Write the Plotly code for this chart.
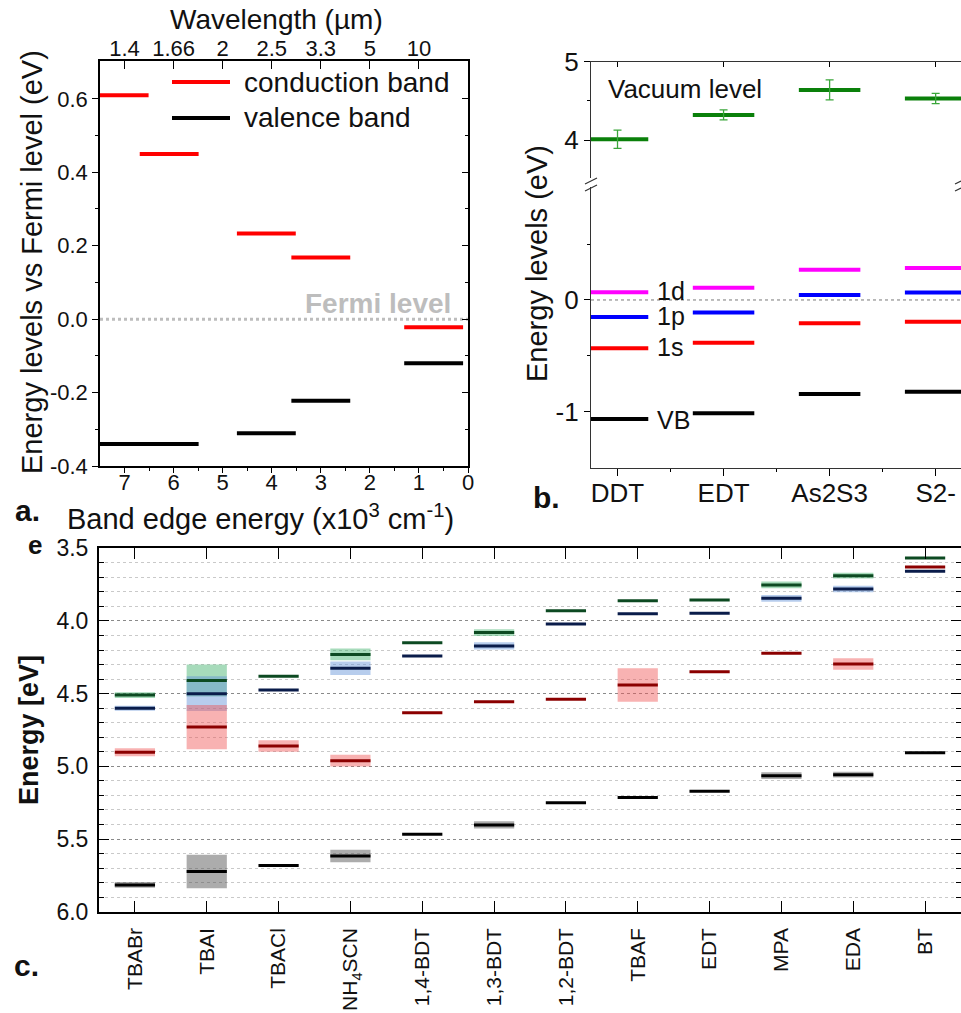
import plotly.graph_objects as go

W, H = 961, 1013
FONT = "Liberation Sans, Arial, sans-serif"

# ---------------- Panel a data ----------------
a_centers = [7.11, 6.09, 4.11, 3.00, 0.70]          # band edge energy (x10^3 cm^-1)
a_halfwidth = 0.60
a_cb = [0.61, 0.45, 0.233, 0.168, -0.022]           # conduction band (eV vs Fermi)
a_vb = [-0.34, -0.34, -0.311, -0.222, -0.12]        # valence band
a_xticks = [7, 6, 5, 4, 3, 2, 1, 0]
a_wl_pos = [7, 6, 5, 4, 3, 2, 1]
a_wl_labels = ["1.4", "1.66", "2", "2.5", "3.3", "5", "10"]
a_yticks = [-0.4, -0.2, 0.0, 0.2, 0.4, 0.6]
a_ylabels = ["-0.4", "-0.2", "0.0", "0.2", "0.4", "0.6"]

# ---------------- Panel b data ----------------
b_cats = ["DDT", "EDT", "As2S3", "S2-"]
b_vac = [4.01, 4.32, 4.64, 4.53]
b_vac_err = [0.117, 0.064, 0.128, 0.066]
b_1d = [0.069, 0.110, 0.271, 0.286]
b_1p = [-0.152, -0.113, 0.045, 0.066]
b_1s = [-0.433, -0.382, -0.209, -0.194]
b_vb = [-1.065, -1.015, -0.842, -0.821]
b_halfwidth = 0.29

# ---------------- Panel c data ----------------
c_cats = ["TBABr", "TBAI", "TBACl", "NH<sub>4</sub>SCN", "1,4-BDT", "1,3-BDT",
          "1,2-BDT", "TBAF", "EDT", "MPA", "EDA", "BT"]
c_green = [4.51, 4.41, 4.38, 4.23, 4.15, 4.08, 3.93, 3.86, 3.856, 3.752, 3.688, 3.567]
c_green_err = [0.02, 0.11, 0.0, 0.04, 0.0, 0.023, 0.0, 0.0, 0.0, 0.023, 0.02, 0.0]
c_blue = [4.60, 4.50, 4.475, 4.325, 4.241, 4.172, 4.021, 3.95, 3.947, 3.844, 3.78, 3.658]
c_blue_err = [0.017, 0.12, 0.0, 0.046, 0.0, 0.025, 0.0, 0.0, 0.0, 0.023, 0.023, 0.0]
c_red = [4.903, 4.73, 4.86, 4.961, 4.631, 4.555, 4.539, 4.44, 4.349, 4.222, 4.296, 3.629]
c_red_err = [0.027, 0.152, 0.04, 0.04, 0.0, 0.0, 0.0, 0.115, 0.0, 0.0, 0.04, 0.0]
c_black = [5.816, 5.724, 5.683, 5.616, 5.467, 5.403, 5.25, 5.215, 5.171, 5.064, 5.057, 4.906]
c_black_err = [0.02, 0.115, 0.0, 0.043, 0.0, 0.025, 0.0, 0.0, 0.0, 0.023, 0.02, 0.0]
c_halfwidth = 0.28
c_yticks = [3.5, 4.0, 4.5, 5.0, 5.5, 6.0]
c_ylabels = ["3.5", "4.0", "4.5", "5.0", "5.5", "6.0"]


def X(px):
    return px / W


def Y(py):
    return 1 - py / H


def seg_xy(xc, vals, hw):
    xs, ys = [], []
    for x, v in zip(xc, vals):
        xs += [x - hw, x + hw, None]
        ys += [v, v, None]
    return xs, ys


fig = go.Figure()

# ---------- panel a traces ----------
fig.add_trace(go.Scatter(x=[7.5, 0], y=[0, 0], mode="lines",
                         line=dict(color="#bdbdbd", width=3, dash="dot"),
                         xaxis="x", yaxis="y", showlegend=False, hoverinfo="skip"))
xs, ys = seg_xy(a_centers, a_cb, a_halfwidth)
fig.add_trace(go.Scatter(x=xs, y=ys, mode="lines", line=dict(color="#ff0000", width=4),
                         name="conduction band", xaxis="x", yaxis="y", showlegend=False))
xs, ys = seg_xy(a_centers, a_vb, a_halfwidth)
fig.add_trace(go.Scatter(x=xs, y=ys, mode="lines", line=dict(color="#000000", width=4),
                         name="valence band", xaxis="x", yaxis="y", showlegend=False))
fig.add_trace(go.Scatter(x=[None], y=[None], xaxis="x2", yaxis="y2", showlegend=False))

# ---------- panel b traces ----------
bx = list(range(len(b_cats)))
fig.add_trace(go.Scatter(x=[-0.25, 3.3], y=[0, 0], mode="lines",
                         line=dict(color="#777777", width=1, dash="dot"),
                         xaxis="x3", yaxis="y3", showlegend=False, hoverinfo="skip"))
for vals, col in [(b_1d, "#ff00ff"), (b_1p, "#0000ff"), (b_1s, "#ff0000"), (b_vb, "#000000")]:
    xs, ys = seg_xy(bx, vals, b_halfwidth)
    fig.add_trace(go.Scatter(x=xs, y=ys, mode="lines", line=dict(color=col, width=4),
                             xaxis="x3", yaxis="y3", showlegend=False))
xs, ys = seg_xy(bx, b_vac, b_halfwidth)
fig.add_trace(go.Scatter(x=xs, y=ys, mode="lines", line=dict(color="#0a800a", width=4),
                         xaxis="x3", yaxis="y4", showlegend=False))
fig.add_trace(go.Scatter(x=bx, y=b_vac, mode="markers",
                         marker=dict(size=1, color="rgba(0,0,0,0)"),
                         error_y=dict(type="data", array=b_vac_err, color="#3aa63a",
                                      thickness=1.3, width=4),
                         xaxis="x3", yaxis="y4", showlegend=False))
fig.add_trace(go.Scatter(x=[None], y=[None], xaxis="x4", yaxis="y4", showlegend=False))

# ---------- panel c traces ----------
cx = list(range(len(c_cats)))
bands = [
    (c_green, c_green_err, "rgba(60,175,105,0.45)", "#0d4a22"),
    (c_blue, c_blue_err, "rgba(95,145,215,0.45)", "#0a1c4a"),
    (c_red, c_red_err, "rgba(240,85,85,0.45)", "#8b0000"),
    (c_black, c_black_err, "rgba(70,70,70,0.45)", "#000000"),
]
for vals, errs, fill, _ in bands:
    fig.add_trace(go.Bar(x=cx, y=[2 * e for e in errs], base=[v - e for v, e in zip(vals, errs)],
                         width=2 * c_halfwidth, marker=dict(color=fill, line=dict(width=0)),
                         xaxis="x5", yaxis="y5", showlegend=False, hoverinfo="skip"))
for vals, errs, _, lc in bands:
    xs, ys = seg_xy(cx, vals, c_halfwidth)
    fig.add_trace(go.Scatter(x=xs, y=ys, mode="lines", line=dict(color=lc, width=3),
                             xaxis="x5", yaxis="y5", showlegend=False))

axis_common = dict(showgrid=False, zeroline=False, showline=True, linecolor="#000",
                   automargin=False,
                   tickcolor="#000", tickfont=dict(family=FONT, size=22, color="#111"))

layout = dict(
    template="none",
    width=W, height=H, margin=dict(l=0, r=0, t=0, b=0, pad=0),
    paper_bgcolor="white", plot_bgcolor="rgba(0,0,0,0)",
    font=dict(family=FONT, color="#111"), barmode="overlay", showlegend=False,
    # panel a
    xaxis=dict(axis_common, domain=[X(100), X(468)], range=[7.5, 0], anchor="y",
               tickmode="array", tickvals=a_xticks, ticks="outside", ticklen=5, linewidth=1.5,
               ticklabelstandoff=-9,
               minor=dict(tickmode="array", tickvals=[6.5, 5.5, 4.5, 3.5, 2.5, 1.5, 0.5],
                          ticks="outside", ticklen=3)),
    xaxis2=dict(axis_common, domain=[X(100), X(468)], range=[7.5, 0], anchor="y",
                overlaying="x", side="top", tickmode="array", tickvals=a_wl_pos,
                ticktext=a_wl_labels, ticks="inside", ticklen=8, linewidth=1.5,
                ticklabelstandoff=-6),
    yaxis=dict(axis_common, domain=[Y(466), Y(61)], range=[-0.4, 0.703], anchor="x",
               tickmode="array", tickvals=a_yticks, ticktext=a_ylabels, ticks="outside",
               ticklen=6, linewidth=1.5,
               minor=dict(tickmode="array", tickvals=[-0.3, -0.1, 0.1, 0.3, 0.5],
                          ticks="outside", ticklen=3)),
    yaxis2=dict(axis_common, domain=[Y(466), Y(61)], range=[-0.4, 0.703], anchor="x",
                overlaying="y", side="right", tickmode="array", tickvals=a_yticks,
                ticks="inside", ticklen=6, showticklabels=False, linewidth=1.5,
                minor=dict(tickmode="array", tickvals=[-0.3, -0.1, 0.1, 0.3, 0.5],
                           ticks="inside", ticklen=3)),
    # panel b
    xaxis3=dict(axis_common, domain=[X(591), 1.0], range=[-0.25, 3.239], anchor="y3",
                tickmode="array", tickvals=bx, ticktext=b_cats, ticks="outside", ticklen=7,
                linewidth=1.2, linecolor="#333", tickfont=dict(family=FONT, size=26, color="#111"),
                ticklabelstandoff=-6,
                minor=dict(tickmode="array", tickvals=[0.5, 1.5, 2.5], ticks="outside",
                           ticklen=3)),
    xaxis4=dict(axis_common, domain=[X(591), 1.0], range=[-0.25, 3.239], anchor="y4",
                side="top", tickmode="array", tickvals=bx, ticks="inside", ticklen=5,
                showticklabels=False, linewidth=1.2, linecolor="#333"),
    yaxis3=dict(axis_common, domain=[Y(468.3), Y(186.7)], range=[-1.507, 1.014], anchor="x3",
                tickmode="array", tickvals=[-1, 0], ticktext=["-1", "0"], ticks="outside",
                ticklen=6, linewidth=1.2, linecolor="#333",
                tickfont=dict(family=FONT, size=26, color="#111"),
                minor=dict(tickmode="array", tickvals=[-0.5, 0.5], ticks="outside", ticklen=3)),
    yaxis4=dict(axis_common, domain=[Y(178), Y(61.7)], range=[3.515, 5.0], anchor="x3",
                tickmode="array", tickvals=[4, 5], ticktext=["4", "5"], ticks="outside",
                ticklen=6, linewidth=1.2, linecolor="#333",
                tickfont=dict(family=FONT, size=26, color="#111"),
                minor=dict(tickmode="array", tickvals=[4.5], ticks="outside", ticklen=3)),
    # panel c
    xaxis5=dict(axis_common, domain=[X(99), 1.0], range=[-0.5, 11.5], anchor="y5",
                tickmode="array", tickvals=cx, ticktext=c_cats, tickangle=-90,
                ticks="inside", ticklen=11, mirror="ticks", linewidth=2, ticklabelstandoff=6,
                tickfont=dict(family=FONT, size=21, color="#111")),
    yaxis5=dict(axis_common, domain=[Y(911.7), Y(548.3)], range=[6.0, 3.5], anchor="x5",
                tickmode="array", tickvals=c_yticks, ticktext=c_ylabels, ticks="inside",
                ticklen=10, mirror="ticks", linewidth=2, ticklabelstandoff=4,
                tickfont=dict(family=FONT, size=23, color="#111"),
                showgrid=True, gridcolor="#8a8a8a", griddash="dot", gridwidth=1,
                minor=dict(dtick=0.1, tick0=3.5, ticks="inside", ticklen=5, showgrid=True,
                           gridcolor="#c9c9c9", griddash="dot", gridwidth=1),
                title=dict(text="<b>Energy [eV]</b>", standoff=10,
                           font=dict(family=FONT, size=27, color="#111"))),
)
fig.update_layout(**layout)

ann = []


def txt(text, x, y, size, bold=False, color="#111", angle=0, xanchor="center", yanchor="middle"):
    ann.append(dict(text=("<b>%s</b>" % text) if bold else text, x=X(x), y=Y(y),
                    xref="paper", yref="paper", showarrow=False, textangle=angle,
                    xanchor=xanchor, yanchor=yanchor,
                    font=dict(family=FONT, size=size, color=color)))


# panel a texts
txt("Wavelength (µm)", 276, 20, 28)
txt("Energy levels vs Fermi level (eV)", 32, 262, 29, angle=-90)
txt("Band edge energy (x10<sup>3</sup> cm<sup>-1</sup>)", 260, 517, 29)
txt("a.", 27, 510, 30, bold=True)
txt("conduction band", 242, 82, 28, xanchor="left")
txt("valence band", 242, 118, 28, xanchor="left")
txt("Fermi level", 453, 303, 28, bold=True, color="#bdbdbd", xanchor="right")
# panel b texts
txt("Energy levels (eV)", 537, 264, 29, angle=-90)
txt("Vacuum level", 685, 89, 26)
txt("1d", 655, 291, 25, xanchor="left")
txt("1p", 655, 316, 25, xanchor="left")
txt("1s", 655, 347, 25, xanchor="left")
txt("VB", 655, 420, 25, xanchor="left")
txt("b.", 546, 497, 30, bold=True)
# panel c texts
txt("e", 35, 545, 26, bold=True)
txt("c.", 26, 965, 30, bold=True)
fig.update_layout(annotations=ann)

shapes = [
    # manual legend samples (panel a)
    dict(type="line", xref="paper", yref="paper", x0=X(172), x1=X(230), y0=Y(82), y1=Y(82),
         line=dict(color="#ff0000", width=4)),
    dict(type="line", xref="paper", yref="paper", x0=X(172), x1=X(230), y0=Y(118), y1=Y(118),
         line=dict(color="#000000", width=4)),
]
# axis break marks (panel b)
for dy in (0, 7):
    shapes.append(dict(type="line", xref="paper", yref="paper", x0=X(585), x1=X(597),
                       y0=Y(184 + dy), y1=Y(178 + dy), line=dict(color="#333", width=1.2)))
    shapes.append(dict(type="line", xref="paper", yref="paper", x0=X(955), x1=1.0,
                       y0=Y(184 + dy), y1=Y(181 + dy), line=dict(color="#333", width=1.2)))
fig.update_layout(shapes=shapes)

fig.write_html("out.html", config={"displayModeBar": False},
               post_script="document.body.style.margin='0';document.body.style.padding='0';")
